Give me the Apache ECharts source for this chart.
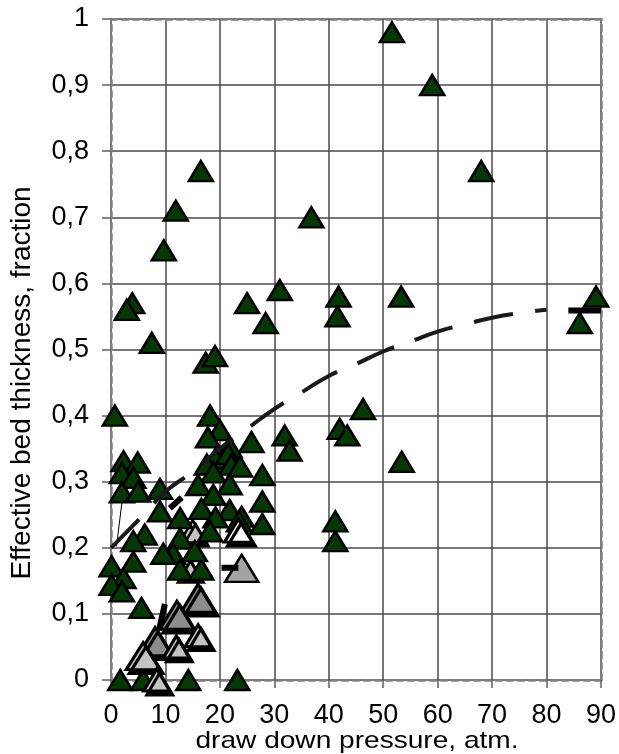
<!DOCTYPE html>
<html><head><meta charset="utf-8">
<script src="https://cdn.jsdelivr.net/npm/echarts@6/dist/echarts.min.js"></script>
<style>html,body{margin:0;padding:0;background:#fff}#c{width:619px;height:754px}</style>
</head><body><div id="c"></div>
<script>
// ---- data ----
const yTickLabels = ['0','0,1','0,2','0,3','0,4','0,5','0,6','0,7','0,8','0,9','1'];
const xTitle = 'draw down pressure, atm.';
const yTitle = 'Effective bed thickness, fraction';

// dark green triangles
const greenX = [51.6,59.0,68.0,16.5,11.9,9.7,36.8,3.9,2.9,7.5,25.0,28.4,31.0,41.8,41.6,17.4,19.1,53.3,89.1,86.1,46.3,42.0,43.4,53.4,41.2,41.2,
  0.7,2.3,4.9,2.0,4.1,2.0,5.0,9.0,9.0,6.2,4.1,4.1,0.1,2.3,0.1,2.0,5.6,12.7,12.7,11.4,9.6,12.7,16.6,15.4,
  18.2,20.0,17.8,21.8,25.8,31.9,32.8,19.2,21.5,22.1,17.6,18.8,23.7,27.8,16.0,21.8,18.8,16.6,21.8,27.8,27.8,19.2,18.2,24.0,23.5,
  1.7,5.9,14.2,23.2];
const greenY = [0.98,0.90,0.77,0.77,0.71,0.65,0.70,0.57,0.56,0.51,0.57,0.54,0.59,0.58,0.55,0.48,0.49,0.58,0.58,0.54,0.41,0.38,0.37,0.33,0.24,0.21,
  0.40,0.331,0.329,0.313,0.306,0.284,0.285,0.289,0.255,0.22,0.21,0.179,0.172,0.154,0.144,0.134,0.109,0.245,0.214,0.191,0.191,0.167,0.167,0.195,
  0.40,0.378,0.367,0.352,0.36,0.37,0.347,0.335,0.342,0.326,0.326,0.314,0.323,0.31,0.295,0.296,0.28,0.259,0.257,0.27,0.236,0.246,0.225,0.247,0.24,
  0,0,0,0];

// grey triangles
const midGreyX = [16.0,12.1,8.1];
const midGreyY = [0.124,0.098,0.058];
const lightBigX = [5.9];
const lightBigY = [0.036];
const lightSmallX = [12.0,16.0,8.4];
const lightSmallY = [0.05,0.067,0.0];
const lightBackX = [15.0,14.1];
const lightBackY = [0.225,0.17];
const silverX = [24.0];
const silverY = [0.169];
const whiteX = [23.4];
const whiteY = [0.226];

// dashed trend curve
const trendX = [0,6,10,15,20,25,30,35,40,45,50,55,60,65,70,75,80];
const trendY = [0.2,0.25,0.285,0.315,0.35,0.38,0.41,0.435,0.46,0.478,0.497,0.512,0.527,0.538,0.548,0.555,0.56];

// short black bar marks
const barX = [84,90,null,20.3,23.4,null,9.9,8.8,null,10.8,13.0];
const barY = [0.559,0.559,null,0.17,0.17,null,0.115,0.075,null,0.26,0.276];
const thinX = [2.0,1.0];
const thinY = [0.268,0.202];

const zip = (xs, ys) => xs.map((x, i) => (x === null ? ['-', '-'] : [x, ys[i]]));

const FONT = 'Liberation Sans';
const FS = 27;
const TFS = 28;
const AX = '#808080';

const tri = (name, xs, ys, color, size, bw, shadow) => ({
  name, type: 'scatter', clip: false, symbol: 'triangle', symbolSize: size,
  data: zip(xs, ys),
  itemStyle: Object.assign({ color, borderColor: '#000', borderWidth: bw, opacity: 1 },
    shadow ? { shadowColor: '#000', shadowBlur: 0, shadowOffsetX: 3, shadowOffsetY: 4 } : {}),
  emphasis: { disabled: true }
});

const chart = echarts.init(document.getElementById('c'), null, { renderer: 'canvas' });
chart.setOption({
  animation: false,
  backgroundColor: '#fff',
  grid: { left: 111, right: 17, top: 19, bottom: 74, containLabel: false },
  graphic: [
    { type: 'text', x: 357, y: 741, scaleX: 1.17, scaleY: 1, silent: true,
      style: { text: xTitle, fontFamily: FONT, fontSize: 24, fill: '#000', align: 'center', verticalAlign: 'middle' } },
    { type: 'text', x: 22, y: 383, rotation: Math.PI / 2, silent: true,
      style: { text: yTitle, fontFamily: FONT, fontSize: TFS, fill: '#000', align: 'center', verticalAlign: 'middle' } }
  ],
  xAxis: [{
    type: 'value', min: 0, max: 90, interval: 10,
    axisLine: { show: true, onZero: false, lineStyle: { color: AX, width: 2.5, type: [6, 5] } },
    axisTick: { show: true, inside: false, length: 8, lineStyle: { color: '#606060', width: 1.5 } },
    axisLabel: { fontFamily: FONT, fontSize: FS, color: '#000', margin: 22, showMinLabel: true, showMaxLabel: true },
    splitLine: { show: true, lineStyle: { color: '#4a4a4a', width: 1.5 } }
  }, {
    type: 'value', min: 0, max: 90, interval: 10, position: 'top',
    axisLine: { show: true, onZero: false, lineStyle: { color: AX, width: 2.5, type: [6, 5] } },
    axisTick: { show: false }, axisLabel: { show: false }, splitLine: { show: false }
  }],
  yAxis: [{
    type: 'value', min: 0, max: 1, interval: 0.1,
    axisLine: { show: true, onZero: false, lineStyle: { color: AX, width: 2.5, type: [6, 5] } },
    axisTick: { show: true, inside: false, length: 9, lineStyle: { color: '#606060', width: 1.5 } },
    axisLabel: {
      fontFamily: FONT, fontSize: FS, color: '#000', margin: 22, showMinLabel: true, showMaxLabel: true,
      formatter: v => yTickLabels[Math.round(v * 10)]
    },
    splitLine: { show: true, lineStyle: { color: '#4a4a4a', width: 1.5 } }
  }, {
    type: 'value', min: 0, max: 1, interval: 0.1, position: 'right',
    axisLine: { show: true, onZero: false, lineStyle: { color: AX, width: 2.5, type: [6, 5] } },
    axisTick: { show: false }, axisLabel: { show: false }, splitLine: { show: false }
  }],
  series: [
    tri('lightBack', lightBackX, lightBackY, '#c4c4c4', [26, 22], 2.5, true),
    tri('green', greenX, greenY, '#063806', [24, 20], 2.5, false),
    tri('silver', silverX, silverY, '#a3a3a3', [33, 27], 2.5, false),
    tri('white', whiteX, whiteY, '#ffffff', [28, 23], 3, true),
    tri('midGrey', midGreyX, midGreyY, '#8c8c8c', [34, 28], 3, true),
    tri('lightBig', lightBigX, lightBigY, '#c4c4c4', [34, 27], 3, true),
    tri('lightSmall', lightSmallX, lightSmallY, '#c4c4c4', [26, 22], 3, true),
    {
      name: 'bars', type: 'line', data: zip(barX, barY), symbol: 'none', connectNulls: false,
      lineStyle: { color: '#000', width: 6, cap: 'butt' }, silent: true
    },
    {
      name: 'thin', type: 'line', data: zip(thinX, thinY), symbol: 'none',
      lineStyle: { color: '#000', width: 1 }, silent: true
    },
    {
      name: 'trend', type: 'line', data: zip(trendX, trendY), symbol: 'none', smooth: true,
      lineStyle: { color: '#1a1a1a', width: 4, type: [40, 22], cap: 'butt' }, silent: true, z: 5
    }
  ]
});
</script>
</body></html>
